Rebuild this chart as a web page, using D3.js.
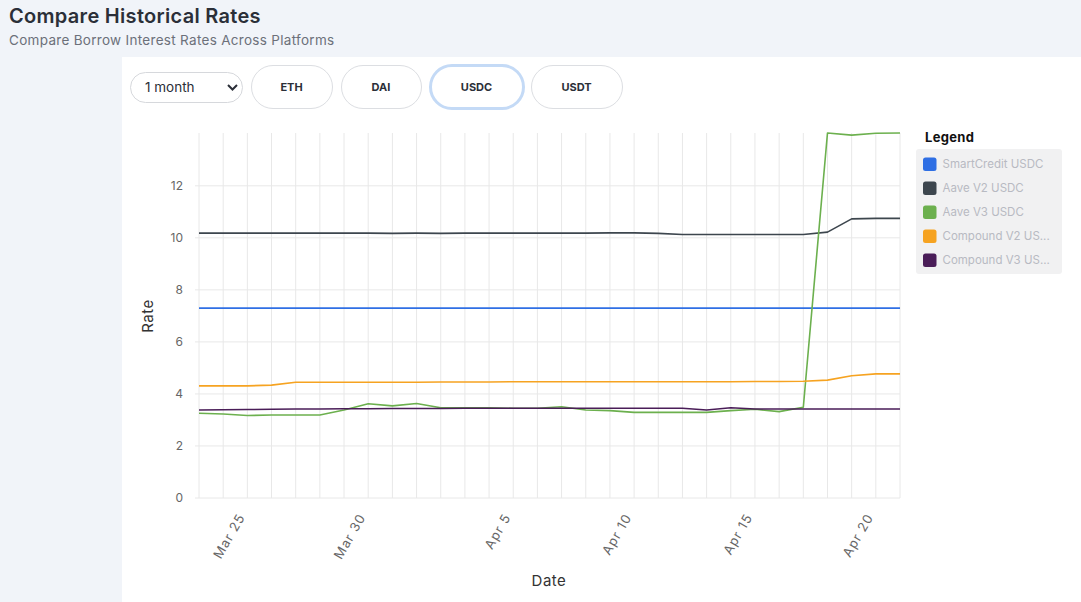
<!DOCTYPE html>
<html>
<head>
<meta charset="utf-8">
<script src="https://cdn.jsdelivr.net/npm/d3@7"></script>
<style>
  body { margin: 0; background: #f1f4f9; font-family: "Inter", "Open Sans", sans-serif; }
  svg { display: block; }
</style>
</head>
<body>
<svg id="chart" width="1081" height="602"></svg>
<script>
// one point per day, Mar 23 -> Apr 21
const dates = d3.timeDay.range(new Date(2024, 2, 23), new Date(2024, 3, 22));
const tickDates = [new Date(2024, 2, 25), new Date(2024, 2, 30), new Date(2024, 3, 5),
  new Date(2024, 3, 10), new Date(2024, 3, 15), new Date(2024, 3, 20)];
const yTicks = [0, 2, 4, 6, 8, 10, 12];

const seriesNames = ["SmartCredit USDC", "Aave V2 USDC", "Aave V3 USDC", "Compound V2 USDC", "Compound V3 USDC"];
const seriesColors = ["#2f6fe4", "#3d464e", "#6cb04e", "#f6a321", "#4a1d58"];

const smartCredit = [7.3, 7.3, 7.3, 7.3, 7.3, 7.3, 7.3, 7.3, 7.3, 7.3, 7.3, 7.3, 7.3, 7.3, 7.3,
  7.3, 7.3, 7.3, 7.3, 7.3, 7.3, 7.3, 7.3, 7.3, 7.3, 7.3, 7.3, 7.3, 7.3, 7.3];
const aaveV2 = [10.18, 10.18, 10.18, 10.18, 10.18, 10.18, 10.18, 10.18, 10.17, 10.18, 10.17, 10.18, 10.18, 10.18, 10.18,
  10.18, 10.18, 10.19, 10.19, 10.17, 10.13, 10.13, 10.13, 10.13, 10.13, 10.13, 10.22, 10.73, 10.75, 10.75];
const aaveV3 = [3.26, 3.23, 3.17, 3.19, 3.19, 3.19, 3.38, 3.62, 3.54, 3.63, 3.47, 3.47, 3.47, 3.45, 3.45,
  3.51, 3.38, 3.36, 3.29, 3.29, 3.29, 3.29, 3.36, 3.41, 3.32, 3.49, 14.03, 13.95, 14.02, 14.03];
const compoundV2 = [4.31, 4.31, 4.31, 4.34, 4.45, 4.45, 4.45, 4.45, 4.45, 4.45, 4.46, 4.46, 4.46, 4.47, 4.47,
  4.47, 4.47, 4.47, 4.47, 4.47, 4.47, 4.47, 4.47, 4.48, 4.48, 4.49, 4.53, 4.70, 4.77, 4.77];
const compoundV3 = [3.38, 3.39, 3.40, 3.41, 3.42, 3.42, 3.43, 3.43, 3.44, 3.44, 3.44, 3.45, 3.45, 3.45, 3.45,
  3.45, 3.45, 3.45, 3.45, 3.45, 3.45, 3.38, 3.47, 3.42, 3.42, 3.42, 3.42, 3.42, 3.42, 3.42];
const seriesValues = [smartCredit, aaveV2, aaveV3, compoundV2, compoundV3];

const svg = d3.select("#chart");

// page header
svg.append("text").attr("x", 9).attr("y", 23)
  .attr("font-size", 20).attr("font-weight", 600).attr("letter-spacing", 0.3).attr("fill", "#2b2f38")
  .text("Compare Historical Rates");
svg.append("text").attr("x", 9).attr("y", 45)
  .attr("font-size", 13.5).attr("letter-spacing", 0.3).attr("fill", "#6c707a")
  .text("Compare Borrow Interest Rates Across Platforms");

// white panel
svg.append("rect").attr("x", 122).attr("y", 57).attr("width", 959).attr("height", 545).attr("fill", "#fff");

// period select
const sel = svg.append("g");
sel.append("rect").attr("x", 130.5).attr("y", 72.5).attr("width", 112).attr("height", 30).attr("rx", 15)
  .attr("fill", "#fff").attr("stroke", "#d6d8dc");
sel.append("text").attr("x", 145).attr("y", 92).attr("font-size", 13.5).attr("fill", "#2b2f38").text("1 month");
sel.append("path").attr("d", "M228,85 L232.5,89.5 L237,85").attr("fill", "none")
  .attr("stroke", "#2b2f38").attr("stroke-width", 2);

// token buttons
const tokens = [
  { name: "ETH", x: 251, w: 81 },
  { name: "DAI", x: 341, w: 80 },
  { name: "USDC", x: 430, w: 93 },
  { name: "USDT", x: 531, w: 91 }
];
const btn = svg.selectAll(".btn").data(tokens).enter().append("g").attr("class", "btn");
btn.append("rect")
  .attr("x", (d) => d.x + 0.5).attr("y", 65.5)
  .attr("width", (d) => d.w).attr("height", 43).attr("rx", 21.5)
  .attr("fill", "#fff")
  .attr("stroke", (d) => (d.name === "USDC" ? "#c4daf6" : "#dcdee2"))
  .attr("stroke-width", (d) => (d.name === "USDC" ? 3 : 1));
btn.append("text")
  .attr("x", (d) => d.x + d.w / 2).attr("y", 91)
  .attr("text-anchor", "middle").attr("font-size", 11).attr("font-weight", 700)
  .attr("fill", "#2b2f38").text((d) => d.name);

// chart area
const plotLeft = 199, plotRight = 900, plotTop = 133, plotBottom = 498;
const x = d3.scaleTime().domain(d3.extent(dates)).range([plotLeft, plotRight]);
const y = d3.scaleLinear().domain([0, d3.max(aaveV3)]).range([plotBottom, plotTop]);

const g = svg.append("g");

// vertical grid, one per day
g.selectAll(".vgrid").data(dates).enter().append("line")
  .attr("x1", (d) => x(d)).attr("x2", (d) => x(d))
  .attr("y1", plotTop).attr("y2", plotBottom)
  .attr("stroke", "#e8e8e8").attr("stroke-width", 1);

// horizontal grid with little ticks left of the axis
g.selectAll(".hgrid").data(yTicks).enter().append("line")
  .attr("x1", plotLeft - 4).attr("x2", plotRight)
  .attr("y1", (d) => y(d)).attr("y2", (d) => y(d))
  .attr("stroke", "#e8e8e8").attr("stroke-width", 1);

g.selectAll(".ylab").data(yTicks).enter().append("text")
  .attr("x", 183).attr("y", (d) => y(d) + 4)
  .attr("text-anchor", "end").attr("font-size", 12).attr("fill", "#666")
  .text((d) => d);

const fmt = d3.timeFormat("%b %-d");
g.selectAll(".xlab").data(tickDates).enter().append("text")
  .attr("transform", (d) => "translate(" + (x(d) - 2) + "," + 517 + ") rotate(-60)")
  .attr("text-anchor", "end").attr("font-size", 13).attr("letter-spacing", 1).attr("fill", "#666")
  .text((d) => fmt(d));

svg.append("text").attr("transform", "translate(153,316) rotate(-90)")
  .attr("text-anchor", "middle").attr("font-size", 15).attr("letter-spacing", 0.5).attr("fill", "#333").text("Rate");
svg.append("text").attr("x", 549).attr("y", 586)
  .attr("text-anchor", "middle").attr("font-size", 15).attr("letter-spacing", 0.5).attr("fill", "#333").text("Date");

// lines
const line = d3.line().x((d, i) => x(dates[i])).y((d) => y(d));
g.selectAll(".series").data(seriesValues).enter().append("path")
  .attr("d", (d) => line(d))
  .attr("fill", "none")
  .attr("stroke", (d, i) => seriesColors[i])
  .attr("stroke-width", 1.6)
  .attr("stroke-linejoin", "round");

// legend
const lg = svg.append("g");
lg.append("text").attr("x", 925).attr("y", 142).attr("font-size", 13).attr("font-weight", 700)
  .attr("letter-spacing", 0.3).attr("fill", "#111").text("Legend");
lg.append("rect").attr("x", 916).attr("y", 149).attr("width", 146).attr("height", 125).attr("rx", 3)
  .attr("fill", "#f1f1f2");
const item = lg.selectAll(".item").data(seriesNames).enter().append("g")
  .attr("transform", (d, i) => "translate(923," + (157.5 + i * 24) + ")");
item.append("rect").attr("width", 13.5).attr("height", 13.5).attr("rx", 2.5)
  .attr("fill", (d, i) => seriesColors[i]);
item.append("text").attr("x", 19.5).attr("y", 10.5).attr("font-size", 11.5).attr("fill", "#b8bac2")
  .text((d) => (d.length > 14 && d.startsWith("Compound") ? d.slice(0, 14) + "..." : d));
</script>
</body>
</html>
